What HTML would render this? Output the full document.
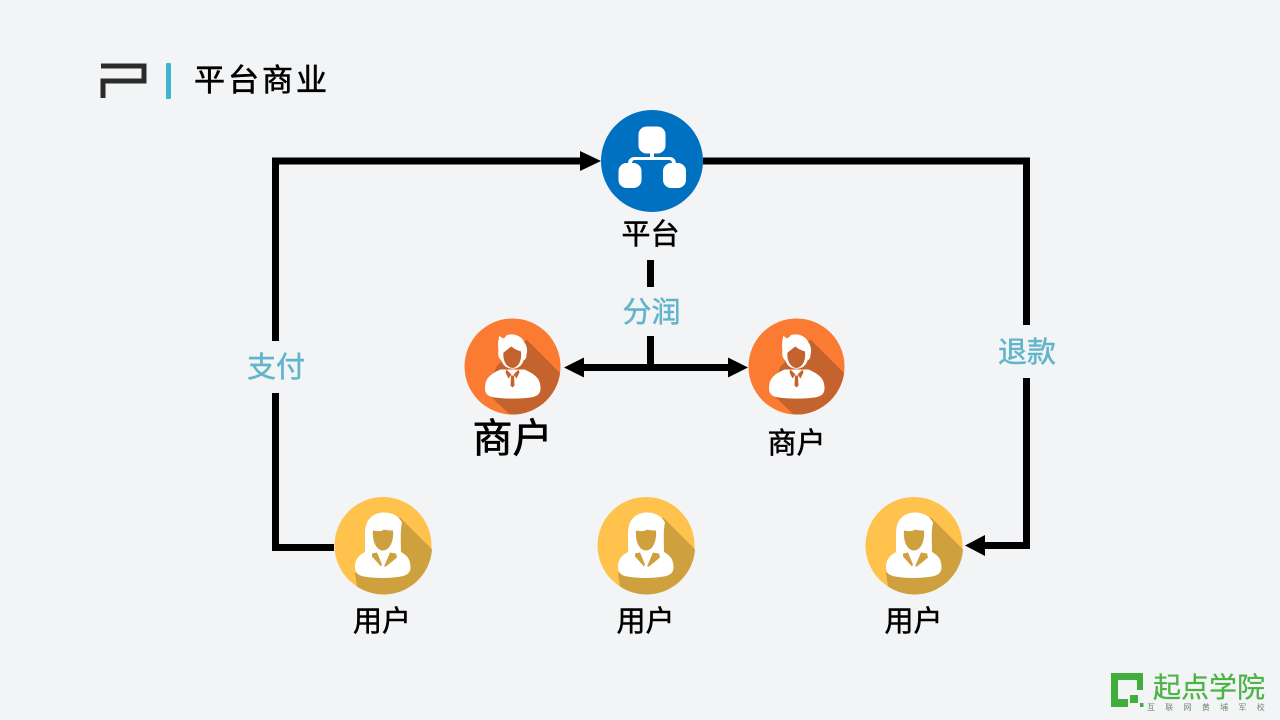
<!DOCTYPE html>
<html lang="zh"><head><meta charset="utf-8"><title>平台商业</title>
<style>
html,body{margin:0;padding:0;background:#f3f4f6;}
svg{display:block;position:absolute;left:0;top:0;}
text{font-family:"Liberation Sans","Noto Sans CJK SC",sans-serif;text-anchor:middle;}
</style></head><body>
<svg width="1280" height="720" viewBox="0 0 1280 720" xmlns="http://www.w3.org/2000/svg">
<defs>
<clipPath id="c48"><circle cx="0" cy="0" r="48"/></clipPath>
<g id="man">
  <circle r="48" fill="#fb7b33"/>
  <g clip-path="url(#c48)">
    <polygon points="14,-27 62,21 62,62 12,62 -26,26 -16,0" fill="#c4632d"/>
  </g>
  <path d="M-27.500,22 C-27.500,12 -23,8 -12,3 L12,3 C23,8 28,12 28,22 C28,27 25,30 18,31 C6,32.500 -6,32.500 -18,31 C-25,30 -27.500,27 -27.500,22Z" fill="#fff"/>
  <path d="M-14,-16 C-15,-24 -14,-26 -13,-31 C-10,-27 -8,-28 -6,-31 C-3,-33 8,-33 12,-24 C15,-20 15,-15 14,-12 C14,-9 13,-7 11,-6 C8,5 -8,5 -11,-6 C-14,-8 -15,-13 -14,-16Z" fill="#fff"/>
  <path d="M-9,-14 C-6,-16 -3,-19 -1,-20 C2,-17 6,-16 8.500,-15 C9.500,-6 6,1 0,1.500 C-6,1 -10,-6 -9,-14Z" fill="#c4632d"/>
  <path d="M-6,3 L-1,8 L-4,12 L-7,6Z M6,3 L1,8 L4,12 L7,6Z M-1.500,9 H1.500 L2,19 L0,21 L-2,19Z" fill="#c4632d"/>
</g>
<g id="woman">
  <circle r="48.500" fill="#ffc34d"/>
  <g clip-path="url(#c48)">
    <polygon points="17,-28 62,17 62,62 6,62 -28,28 -10,0" fill="#cfa03e"/>
  </g>
  <path d="M17,-28 L49,4 A48.500,48.500 0 0 1 -26,41 L-28,28 L-10,0Z" fill="#cfa03e"/>
  <path d="M-28,22 C-28,13 -24,9 -13,4 L13,4 C24,9 27.500,13 27.500,22 C27.500,27 24,30 18,31 C6,33 -8,33 -19,31 C-25,30 -28,27 -28,22Z" fill="#fff"/>
  <path d="M-18,-12 C-18,-26 -10,-33 1,-33 C9,-33 15,-30 19,-23 C17,-14 18,-4 18,8 L-18,8 C-18,2 -18,0 -18,-12Z" fill="#fff"/>
  <path d="M-10,-15 C-5,-14 -1,-14 1,-16 C4,-15 8,-15 10,-15 C11,-5 7,5 0,5 C-7,5 -11,-5 -10,-15Z" fill="#cfa03e"/>
  <path d="M-11,8 L-6,7 L-1,19 L-2,21 L-11,11Z M13,8 L7,7 L1,21 L3,21 L14,12Z" fill="#cfa03e"/>
</g>
</defs>

<!-- logo -->
<path d="M101,66 H144 V81 H103 V98" fill="none" stroke="#2b2b2b" stroke-width="5"/>
<rect x="166" y="63" width="5" height="36" rx="1" fill="#3fb4d2"/>
<text x="262" y="91" font-size="31" letter-spacing="3" fill="#000" stroke="#000" stroke-width="0.600">平台商业</text>

<!-- connectors -->
<g fill="none" stroke="#000" stroke-width="7">
  <path d="M275.500,341 V161 H585"/>
  <path d="M275.500,393 V547.500 H334"/>
  <path d="M703,161 H1026.500 V325"/>
  <path d="M1026.500,378 V545.500 H984"/>
  <path d="M650.500,260 V287"/>
  <path d="M650.500,336 V367.500"/>
  <path d="M582,367.500 H730"/>
</g>
<g fill="#000">
  <polygon points="601,161 580,151 580,171"/>
  <polygon points="965,545.500 985,535 985,556"/>
  <polygon points="564,367.500 584,357.500 584,377.500"/>
  <polygon points="748,367.500 728,357.500 728,377.500"/>
</g>

<!-- platform -->
<circle cx="652" cy="161" r="51" fill="#0070c0"/>
<g fill="#fff" transform="translate(652,161)">
  <rect x="-13.500" y="-34.500" width="27" height="27" rx="8"/>
  <rect x="-33.500" y="2" width="23" height="25" rx="8"/>
  <rect x="11" y="2" width="23" height="25" rx="8"/>
  <path d="M-2,-8 H2 V-4 H17 C22,-4 24,-1 24,3 H20 C20,0 19,-1 17,-1 H-17 C-19,-1 -20,0 -20,3 H-24 C-24,-1 -22,-4 -17,-4 H-2Z"/>
</g>

<use href="#man" x="512.500" y="366.500"/>
<use href="#man" x="796.500" y="366.500"/>
<use href="#woman" x="383" y="545.500"/>
<use href="#woman" x="646" y="545.500"/>
<use href="#woman" x="914" y="545.500"/>

<!-- labels -->
<g fill="#000" font-size="29" stroke="#000" stroke-width="0.500">
  <text x="650.500" y="244">平台</text>
  <text x="796.500" y="453">商户</text>
  <text x="382" y="631">用户</text>
  <text x="645.500" y="631">用户</text>
  <text x="913.500" y="631">用户</text>
</g>
<text x="512.500" y="452" font-size="40" fill="#000" stroke="#000" stroke-width="0.700">商户</text>
<g fill="#63b5cb" font-size="29" stroke="#63b5cb" stroke-width="0.500">
  <text x="276" y="377">支付</text>
  <text x="651.500" y="322">分润</text>
  <text x="1027" y="362">退款</text>
</g>

<!-- brand -->
<g fill="#3fae3a">
  <rect x="1111" y="673" width="7" height="34"/>
  <rect x="1111" y="673" width="32" height="7"/>
  <rect x="1137" y="673" width="6" height="17"/>
  <rect x="1111" y="699" width="17" height="8"/>
  <rect x="1130" y="695" width="8" height="8"/>
  <rect x="1140" y="703" width="3.500" height="4"/>
</g>
<text x="1209" y="697" font-size="28" fill="#4cb347" stroke="#4cb347" stroke-width="0.300">起点学院</text>
<text x="1211" y="710" font-size="8" letter-spacing="10.300" fill="#6d8a6d">互联网黄埔军校</text>
</svg>
</body></html>
